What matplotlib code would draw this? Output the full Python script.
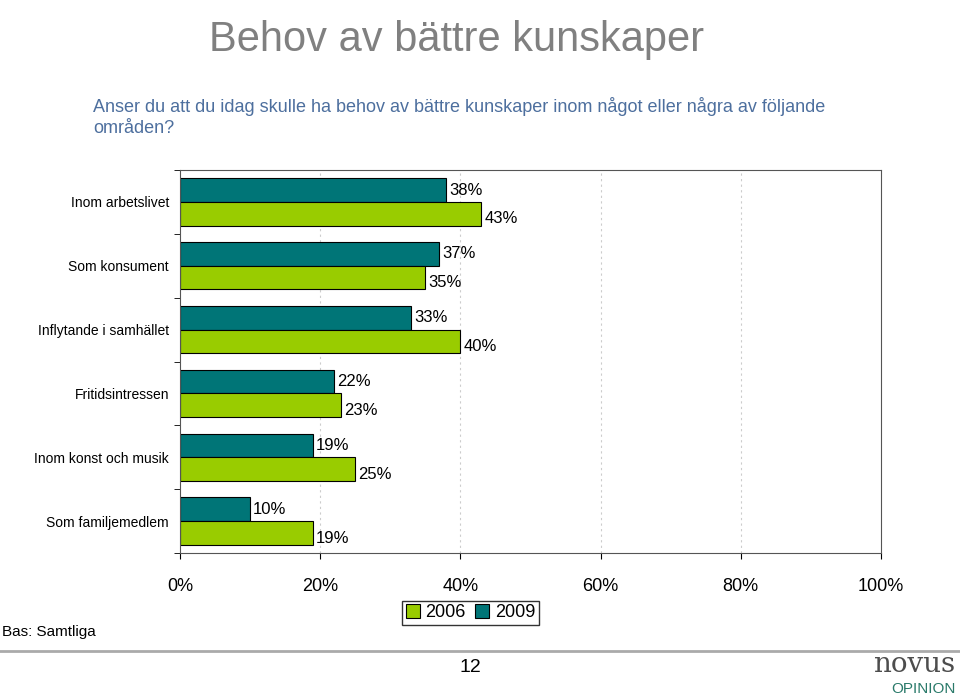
import matplotlib
matplotlib.use("Agg")
import matplotlib.pyplot as plt
import numpy as np

plt.rcParams["font.family"] = ["Liberation Sans", "DejaVu Sans"]

categories = ["Inom arbetslivet", "Som konsument", "Inflytande i samhället",
              "Fritidsintressen", "Inom konst och musik", "Som familjemedlem"]
v2009 = [38, 37, 33, 22, 19, 10]
v2006 = [43, 35, 40, 23, 25, 19]
xticks = [0, 20, 40, 60, 80, 100]

teal = "#007577"
green = "#99cc00"

fig = plt.figure(figsize=(9.6, 6.98), dpi=100)
fig.text(0.218, 0.972, "Behov av bättre kunskaper", fontsize=30, color="#808080", va="top")
fig.text(0.097, 0.833, "Anser du att du idag skulle ha behov av bättre kunskaper inom något eller några av följande\nområden?",
         fontsize=13, color="#4d6f9e", va="center", linespacing=1.3)

ax = fig.add_axes([0.1875, 0.2077, 0.7302, 0.5487])
y = np.arange(len(categories))
h = 0.37
ax.barh(y - h/2, v2009, height=h, color=teal, edgecolor="black", linewidth=0.8, label="2009")
ax.barh(y + h/2, v2006, height=h, color=green, edgecolor="black", linewidth=0.8, label="2006")
for i in range(len(categories)):
    ax.text(v2009[i] + 0.4, y[i] - h/2, f"{v2009[i]}%", va="center", fontsize=12)
    ax.text(v2006[i] + 0.4, y[i] + h/2 + 0.08, f"{v2006[i]}%", va="center", fontsize=12)
ax.set_ylim(len(categories) - 0.5, -0.5)
ax.set_xlim(0, 100)
ax.set_yticks(y)
ax.set_yticklabels(categories, fontsize=10, family=["Liberation Sans Narrow", "Liberation Sans"])
ax.set_yticks(np.arange(len(categories) + 1) - 0.5, minor=True)
ax.tick_params(axis="y", which="major", length=0, pad=8)
ax.tick_params(axis="y", which="minor", length=4)
ax.set_xticks(xticks)
ax.set_xticklabels([f"{t}%" for t in xticks], fontsize=13)
ax.tick_params(axis="x", length=4, pad=14)
for t in xticks[1:-1]:
    ax.axvline(t, color="#cccccc", linestyle=(0, (2, 3)), linewidth=0.8, zorder=0)
for s in ax.spines.values():
    s.set_color("#555555")

handles, labels = ax.get_legend_handles_labels()
fig.legend(handles[::-1], labels[::-1], loc="center", bbox_to_anchor=(0.49, 0.122), ncol=2,
           fontsize=13, frameon=True, fancybox=False, edgecolor="black",
           handlelength=0.8, handleheight=0.8, handletextpad=0.3, columnspacing=0.5,
           borderpad=0.2)

fig.text(0.002, 0.095, "Bas: Samtliga", fontsize=11, va="center")
fig.add_artist(plt.Line2D([0, 1], [0.068, 0.068], color="#aaaaaa", linewidth=2))
fig.text(0.49, 0.043, "12", fontsize=14, ha="center", va="center")
fig.text(0.995, 0.048, "novus", fontsize=20, color="#4d4d4d", ha="right", va="center",
         family="DejaVu Serif")
fig.text(0.995, 0.013, "OPINION", fontsize=11, color="#2a7a6a", ha="right", va="center")

fig.savefig("out.png", dpi=100)
